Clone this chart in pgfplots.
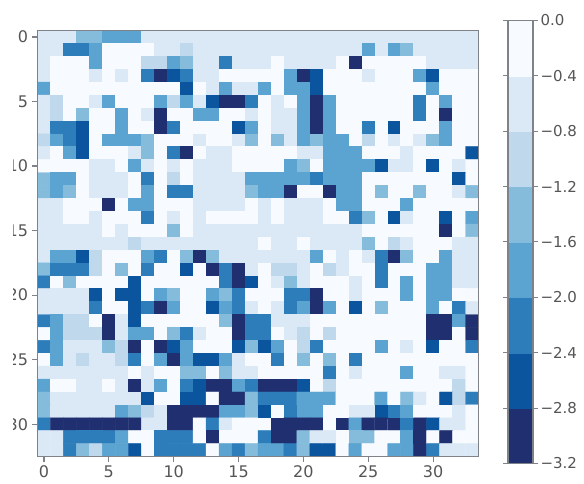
\documentclass[border=0pt]{standalone}
\usepackage{pgfplots}
\pgfplotsset{compat=1.18}
\usepackage{fontspec}
\setmainfont{DejaVu Sans}
\definecolor{framegray}{HTML}{7F8288}
\definecolor{labelgray}{HTML}{555555}
\begin{document}
\begin{tikzpicture}
\useasboundingbox (-37.5pt,-26.5pt) rectangle (546.5pt,456.5pt);
\begin{axis}[
	at={(0pt,0pt)}, anchor=south west,
	scale only axis, width=441pt, height=426pt,
	xmin=-0.5, xmax=33.5, ymin=-0.5, ymax=32.5,
	y dir=reverse,
	xtick={0,5,...,30}, ytick={0,5,...,30},
	tick align=outside, major tick length=5pt,
	tick style={framegray, line width=1.2pt},
	axis line style={framegray, line width=1.6pt},
	tick label style={font=\fontsize{16}{18}\selectfont, text=labelgray},
	xticklabel style={yshift=-1pt}, yticklabel style={xshift=-1pt},
	/pgf/number format/assume math mode=true,
	xtick pos=bottom, ytick pos=left,
	axis on top,
	colormap={blues8}{
		rgb255=(31,47,112) rgb255=(11,85,159) rgb255=(45,125,187) rgb255=(91,163,208)
		rgb255=(133,188,220) rgb255=(192,216,236) rgb255=(219,233,246) rgb255=(247,251,255)},
	colormap access=piecewise constant,
	point meta min=-3.2, point meta max=0,
	colorbar sampled,
	colorbar style={
		samples=9,
		scale only axis, width=25pt, height=443pt,
		at={(1.0669,1.0235)}, anchor=north west,
		ytick={-3.2,-2.8,...,0}, 
		yticklabels={−3.2,−2.8,−2.4,−2.0,−1.6,−1.2,−0.8,−0.4,0.0},
		yticklabel pos=right,
		tick align=outside, major tick length=5pt,
		tick style={framegray, line width=1pt},
		axis line style={framegray, line width=1.4pt},
		yticklabel style={font=\fontsize{15}{17}\selectfont, text=labelgray, xshift=-1pt},
	},
]
% 34 x 33 cells, one value per cell, row after row from the top
\addplot[matrix plot*, mesh/cols=34, point meta=explicit]
	table[row sep=\\, x expr={mod(\coordindex,34)}, y expr={floor((\coordindex+0.5)/34)}, meta index=0, header=false] {
-.6\\-.6\\-.6\\-1.4\\-1.4\\-1.8\\-1.8\\-1.8\\-.6\\-.6\\-.6\\-.6\\-.6\\-.6\\-.6\\-.6\\-.6\\-.6\\-.6\\-.6\\-.6\\-.6\\-.6\\-.6\\-.6\\-.6\\-.6\\-.6\\-.6\\-.6\\-.6\\-.6\\-.6\\-.6\\
-.6\\-.6\\-2.2\\-2.2\\-1.8\\-.2\\-.2\\-.2\\-.2\\-.6\\-.6\\-1\\-.6\\-.6\\-.6\\-.6\\-.6\\-.6\\-.6\\-.6\\-.6\\-.6\\-.6\\-.6\\-.6\\-1.8\\-.6\\-1.8\\-1.4\\-.6\\-.6\\-.6\\-.6\\-.6\\
-.6\\-.2\\-.2\\-.2\\-1.8\\-.2\\-.2\\-.2\\-1\\-1\\-1.8\\-1.4\\-.6\\-.6\\-2.2\\-.6\\-.6\\-.6\\-.2\\-.6\\-.6\\-.6\\-.6\\-.2\\-3\\-.2\\-.2\\-.2\\-.2\\-.2\\-.6\\-.6\\-.6\\-.6\\
-.6\\-.2\\-.2\\-.2\\-.6\\-.2\\-.6\\-.2\\-2.2\\-3\\-2.6\\-2.2\\-.6\\-.6\\-.2\\-.2\\-.2\\-.2\\-.2\\-1.8\\-3\\-2.6\\-.2\\-.2\\-.2\\-.6\\-.2\\-.2\\-.2\\-1.8\\-2.6\\-.2\\-.2\\-.2\\
-1.8\\-.2\\-.2\\-.2\\-.2\\-.2\\-.2\\-.2\\-.2\\-.2\\-.2\\-2.6\\-.2\\-.6\\-1.8\\-.6\\-.6\\-1.8\\-.2\\-1.8\\-1.8\\-2.6\\-.2\\-.2\\-.2\\-.2\\-.2\\-.2\\-.2\\-.2\\-1.8\\-.2\\-.2\\-.2\\
-.6\\-1\\-.2\\-.2\\-.6\\-1.8\\-.2\\-.2\\-.2\\-1.8\\-1\\-1.8\\-.6\\-2.6\\-3\\-3\\-2.2\\-.2\\-.6\\-.2\\-1.8\\-3\\-1.8\\-.2\\-.2\\-.2\\-.2\\-.2\\-.2\\-2.2\\-.2\\-1.8\\-.2\\-.2\\
-.6\\-1\\-.2\\-1.4\\-.2\\-.2\\-1.8\\-.2\\-.6\\-3\\-.2\\-.2\\-1.8\\-1.8\\-.2\\-.2\\-.6\\-.2\\-.6\\-.6\\-1.8\\-3\\-1.8\\-.2\\-.2\\-.2\\-.2\\-.2\\-.2\\-2.2\\-.2\\-3\\-.2\\-.2\\
-.6\\-2.2\\-2.2\\-2.6\\-.2\\-.2\\-1.8\\-.2\\-.2\\-3\\-2.2\\-.2\\-.2\\-.2\\-.2\\-2.6\\-1.8\\-.2\\-.6\\-.6\\-1.8\\-3\\-1.8\\-.2\\-.2\\-2.2\\-.2\\-2.6\\-.2\\-.2\\-.2\\-1.8\\-.2\\-.2\\
-1\\-1.8\\-2.2\\-2.6\\-.2\\-1.8\\-1.8\\-1.8\\-1.4\\-.2\\-.2\\-.2\\-.6\\-.2\\-.2\\-.6\\-1.4\\-.2\\-1.4\\-.6\\-1.8\\-1.4\\-1.8\\-1.8\\-.2\\-1\\-.2\\-.6\\-.2\\-.6\\-1.4\\-1.8\\-.2\\-.2\\
-.6\\-.2\\-1.8\\-2.6\\-.2\\-.2\\-.2\\-.6\\-1.4\\-.2\\-2.2\\-3\\-.2\\-.6\\-.6\\-.2\\-.2\\-.2\\-.2\\-.2\\-.6\\-.6\\-1.8\\-1.8\\-1.8\\-.2\\-.2\\-.2\\-.6\\-.2\\-.2\\-.2\\-.2\\-2.6\\
-.2\\-.2\\-.2\\-.2\\-.6\\-.6\\-.2\\-1.8\\-.6\\-.2\\-.6\\-.2\\-.6\\-.6\\-.6\\-.2\\-.2\\-.2\\-.2\\-1.8\\-1.4\\-.2\\-1.8\\-1.8\\-1.8\\-1.8\\-2.6\\-.6\\-.6\\-.2\\-2.6\\-.2\\-.6\\-.2\\
-1.4\\-1.8\\-1.8\\-.2\\-.6\\-.6\\-.6\\-.2\\-2.2\\-.2\\-1\\-.2\\-.6\\-.6\\-.6\\-.6\\-1.8\\-1.8\\-1.8\\-1.8\\-1.8\\-2.2\\-1.8\\-1.8\\-1.8\\-.2\\-.2\\-.2\\-.2\\-.2\\-.2\\-.2\\-2.6\\-.2\\
-1.4\\-1.8\\-1.4\\-.2\\-.6\\-.6\\-.6\\-.2\\-1.8\\-.2\\-2.2\\-2.2\\-.6\\-.6\\-.6\\-.6\\-1.4\\-1.8\\-1.8\\-3\\-.2\\-.2\\-3\\-1.8\\-1.8\\-.2\\-1.4\\-.2\\-.2\\-1.4\\-.2\\-.2\\-.6\\-1.4\\
-.6\\-.6\\-.2\\-.2\\-.2\\-3\\-.2\\-1.8\\-1.8\\-.2\\-.2\\-.2\\-.6\\-.6\\-.6\\-.6\\-.2\\-.6\\-.2\\-.6\\-.6\\-.6\\-.2\\-1.8\\-1.8\\-.2\\-.2\\-.2\\-1.8\\-.2\\-.2\\-.2\\-.2\\-.2\\
-.6\\-.6\\-.2\\-.2\\-.6\\-.2\\-.2\\-.2\\-2.2\\-.2\\-.6\\-.2\\-.6\\-.2\\-.2\\-.2\\-.2\\-.6\\-.2\\-.6\\-.6\\-.6\\-.2\\-.2\\-2.2\\-1.4\\-.2\\-2.6\\-.6\\-.2\\-.2\\-2.6\\-.2\\-1.8\\
-.6\\-.6\\-.6\\-.6\\-.6\\-.2\\-.6\\-.2\\-.2\\-.2\\-1.4\\-.2\\-.6\\-.6\\-.6\\-.6\\-.6\\-.6\\-.6\\-.6\\-.6\\-.6\\-.6\\-.6\\-.6\\-.2\\-.2\\-.2\\-.2\\-.2\\-.2\\-3\\-.2\\-1.4\\
-.6\\-.6\\-.6\\-.6\\-.6\\-.6\\-.6\\-1\\-.6\\-.6\\-.6\\-.6\\-.6\\-.6\\-.6\\-.6\\-.6\\-.2\\-.6\\-.6\\-.2\\-.6\\-.6\\-.6\\-.6\\-1.4\\-.2\\-1\\-.6\\-.2\\-.2\\-.2\\-.6\\-.6\\
-.6\\-1.8\\-1.8\\-2.6\\-1\\-.2\\-.2\\-.2\\-1.8\\-2.2\\-.2\\-1.4\\-3\\-1.4\\-.6\\-.6\\-.6\\-.6\\-.6\\-.6\\-.6\\-1.8\\-.2\\-.6\\-.2\\-.6\\-2.2\\-3\\-1.4\\-.2\\-.2\\-1.8\\-.6\\-.6\\
-1.4\\-2.2\\-2.2\\-2.2\\-1\\-.2\\-1.4\\-.2\\-2.2\\-.2\\-.2\\-2.6\\-.2\\-3\\-2.2\\-3\\-.6\\-.2\\-1\\-1\\-.6\\-.2\\-1\\-.6\\-.2\\-.2\\-2.2\\-.2\\-.2\\-.2\\-1.8\\-1.8\\-.6\\-.6\\
-2.2\\-.2\\-1.4\\-.2\\-.2\\-.2\\-.2\\-2.6\\-.2\\-.2\\-.2\\-.2\\-.2\\-.2\\-2.2\\-3\\-2.6\\-.2\\-.6\\-1.4\\-.6\\-.2\\-.2\\-.2\\-.6\\-.2\\-2.2\\-.2\\-1.8\\-.2\\-1.8\\-1.8\\-.6\\-.6\\
-.6\\-.6\\-.6\\-.6\\-2.6\\-.2\\-2.6\\-2.6\\-.2\\-1.8\\-1.4\\-.2\\-.2\\-1.8\\-1.4\\-2.2\\-.2\\-.2\\-.2\\-2.2\\-2.2\\-3\\-.2\\-.2\\-.6\\-.2\\-.2\\-.2\\-1.8\\-.2\\-1.8\\-1.8\\-.2\\-.2\\
-.6\\-.6\\-.6\\-.6\\-2.2\\-.2\\-.2\\-2.6\\-2.2\\-3\\-1.8\\-.2\\-.2\\-2.6\\-1.8\\-2.2\\-.6\\-.2\\-.6\\-2.2\\-1.8\\-3\\-1.8\\-.2\\-2.6\\-.2\\-1.4\\-.2\\-.2\\-.2\\-1.8\\-.2\\-2.2\\-.6\\
-2.2\\-1.8\\-1\\-1\\-.2\\-3\\-.6\\-2.6\\-.2\\-.2\\-.2\\-.2\\-.2\\-.2\\-1.4\\-3\\-2.2\\-2.2\\-.6\\-.6\\-.6\\-.2\\-.2\\-.2\\-.2\\-.2\\-.2\\-.2\\-.2\\-.2\\-3\\-3\\-1.8\\-3\\
-.2\\-1.8\\-1\\-1\\-1\\-3\\-.6\\-1.8\\-1.8\\-.2\\-1.4\\-2.2\\-.6\\-.2\\-.2\\-3\\-2.2\\-2.2\\-.2\\-.6\\-1\\-.2\\-1\\-.2\\-.2\\-.2\\-.2\\-.2\\-.2\\-.2\\-3\\-3\\-.2\\-3\\
-2.2\\-1.8\\-.6\\-.6\\-.6\\-1.4\\-1\\-3\\-.2\\-3\\-2.6\\-1.8\\-.2\\-.2\\-.2\\-2.6\\-1.4\\-2.6\\-1.8\\-.2\\-1\\-2.2\\-.2\\-.2\\-.2\\-.2\\-1.8\\-.2\\-.6\\-.2\\-2.6\\-.2\\-.2\\-2.2\\
-.2\\-1.8\\-.6\\-1\\-.6\\-.6\\-1\\-2.2\\-.2\\-1.8\\-3\\-1.8\\-2.6\\-2.6\\-1.8\\-.6\\-.2\\-.2\\-2.2\\-.2\\-1.4\\-.2\\-1.4\\-.2\\-2.2\\-.2\\-.2\\-.2\\-.2\\-.2\\-.2\\-.2\\-.2\\-.2\\
-.6\\-.6\\-.6\\-.6\\-.6\\-.6\\-.6\\-.2\\-.6\\-.2\\-.2\\-1.4\\-1.4\\-.2\\-1.4\\-.6\\-.6\\-.2\\-.2\\-.2\\-.2\\-.2\\-2.2\\-.2\\-.6\\-.2\\-.2\\-.2\\-1.8\\-.2\\-.2\\-.6\\-.6\\-.2\\
-1.8\\-.2\\-.2\\-.6\\-.6\\-.2\\-.6\\-3\\-.6\\-1.8\\-.2\\-2.2\\-2.6\\-3\\-3\\-1.8\\-2.2\\-3\\-3\\-3\\-2.6\\-.2\\-1\\-.2\\-.2\\-.2\\-.2\\-.2\\-.2\\-.2\\-.2\\-.2\\-1\\-.2\\
-1.4\\-.6\\-.6\\-.6\\-.6\\-.6\\-.6\\-.6\\-2.6\\-.2\\-.2\\-2.6\\-2.6\\-.2\\-3\\-3\\-1.4\\-2.2\\-2.2\\-2.2\\-1.8\\-1.8\\-1.8\\-.2\\-.2\\-.2\\-1.8\\-.2\\-1.4\\-.6\\-.2\\-2.6\\-1\\-2.2\\
-1.4\\-.6\\-.6\\-.6\\-.6\\-.6\\-1.8\\-1.4\\-1\\-.6\\-3\\-3\\-3\\-3\\-1.8\\-1.8\\-1.4\\-2.6\\-.2\\-2.2\\-1.8\\-1.8\\-.2\\-.2\\-.6\\-.6\\-2.6\\-2.2\\-1.8\\-.2\\-.2\\-.2\\-.6\\-.2\\
-2.2\\-3\\-3\\-3\\-3\\-3\\-3\\-3\\-.6\\-.6\\-3\\-3\\-.2\\-2.2\\-.6\\-.2\\-.2\\-.2\\-3\\-3\\-3\\-3\\-.2\\-3\\-1.8\\-3\\-3\\-3\\-2.2\\-3\\-2.6\\-.6\\-.6\\-.2\\
-.6\\-.6\\-2.2\\-2.2\\-2.2\\-2.2\\-1.8\\-.2\\-.2\\-2.2\\-2.2\\-2.2\\-.2\\-3\\-.2\\-.2\\-.2\\-2.2\\-3\\-3\\-1.4\\-.6\\-.6\\-.2\\-1.4\\-1.4\\-.2\\-.2\\-1.8\\-3\\-.2\\-3\\-.2\\-.2\\
-.6\\-.6\\-2.2\\-1.4\\-1\\-1.8\\-1.8\\-2.6\\-.2\\-2.2\\-2.2\\-2.2\\-2.2\\-.2\\-1.8\\-2.2\\-1.4\\-1.8\\-1.8\\-2.2\\-1.4\\-2.6\\-2.6\\-.2\\-1.8\\-.2\\-.2\\-1.8\\-1.8\\-3\\-2.2\\-.6\\-.6\\-.6\\
};
\end{axis}
\fill[white] (-37.5pt,-26.5pt) rectangle (-24.5pt,456.5pt);
\end{tikzpicture}
\end{document}
